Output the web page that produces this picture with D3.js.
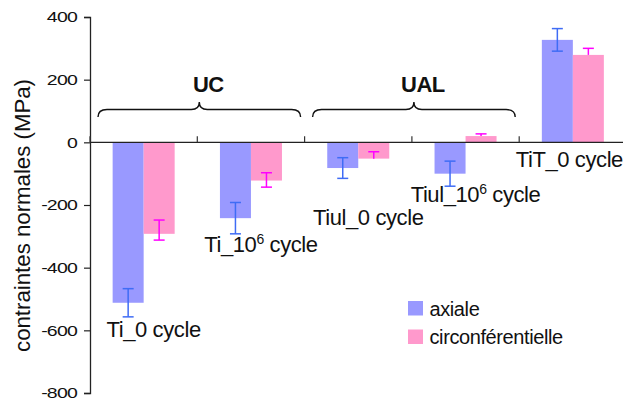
<!DOCTYPE html>
<html>
<head>
<meta charset="utf-8">
<script src="https://cdn.jsdelivr.net/npm/d3@7"></script>
<style>
  html, body { margin: 0; padding: 0; background: #fff; }
  svg { display: block; font-family: "Liberation Sans", Arial, sans-serif; }
</style>
</head>
<body>
<svg id="chart" width="623" height="403"></svg>
<script>
// ---- data ----
const categories = ["Ti_0 cycle", "Ti_10^6 cycle", "Tiul_0 cycle", "Tiul_10^6 cycle", "TiT_0 cycle"];
const seriesNames = ["axiale", "circonférentielle"];
const axiale = [-512, -242, -82, -100, 327];
const axialeErr = [45, 50, 33, 40, 36];
const circ = [-292, -122, -52, 20, 279];
const circErrPlus = [44, 25, 22, 7, 21];
const circErrMinus = [20, 21, 0, 0, 0];
const yTicks = [400, 200, 0, -200, -400, -600, -800];
const yTitle = "contraintes normales (MPa)";
const groups = [{ label: "UC", from: 0, to: 1 }, { label: "UAL", from: 2, to: 3 }];
// category label anchor values (data units, below/above bars)
const labelValues = [-620, -350, -264, -190, -79];

// ---- styles ----
const colors = ["#9999FF", "#FF99CC"];
const errColors = ["#3F6CF5", "#FF00FF"];
const labelDx = [10, 10, 10, 10, -3.5];

const svg = d3.select("#chart");
svg.append("rect").attr("width", 623).attr("height", 403).attr("fill", "#fff");

const y = d3.scaleLinear().domain([-800, 400]).range([393, 17]);
const x0 = d3.scaleBand().domain(categories).range([90, 626.5]).paddingInner(0.422).paddingOuter(0.211);
const x1 = d3.scaleBand().domain(seriesNames).range([0, x0.bandwidth()]);
const step = x0.step();
const bound = i => 90 + i * step;

const rows = categories.map((c, i) => ({
  cat: c,
  vals: [
    { s: 0, v: axiale[i], hi: axiale[i] + axialeErr[i], lo: axiale[i] - axialeErr[i] },
    { s: 1, v: circ[i], hi: circ[i] + circErrPlus[i], lo: circ[i] - circErrMinus[i] }
  ]
}));

// bars
const g = svg.append("g");
const cg = g.selectAll("g.cat").data(rows).enter().append("g")
  .attr("transform", d => `translate(${x0(d.cat)},0)`);
cg.selectAll("rect").data(d => d.vals).enter().append("rect")
  .attr("x", d => x1(seriesNames[d.s]))
  .attr("width", x1.bandwidth())
  .attr("y", d => y(Math.max(0, d.v)))
  .attr("height", d => Math.abs(y(d.v) - y(0)))
  .attr("fill", d => colors[d.s]);

// error bars
const cap = 5.5;
const eb = cg.selectAll("g.err").data(d => d.vals).enter().append("g")
  .attr("stroke", d => errColors[d.s]).attr("stroke-width", 1.5).attr("fill", "none");
eb.append("line")
  .attr("x1", d => x1(seriesNames[d.s]) + x1.bandwidth() / 2)
  .attr("x2", d => x1(seriesNames[d.s]) + x1.bandwidth() / 2)
  .attr("y1", d => y(d.hi)).attr("y2", d => y(d.lo));
eb.filter(d => d.hi !== d.v).append("line")
  .attr("x1", d => x1(seriesNames[d.s]) + x1.bandwidth() / 2 - cap)
  .attr("x2", d => x1(seriesNames[d.s]) + x1.bandwidth() / 2 + cap)
  .attr("y1", d => y(d.hi)).attr("y2", d => y(d.hi));
eb.filter(d => d.lo !== d.v).append("line")
  .attr("x1", d => x1(seriesNames[d.s]) + x1.bandwidth() / 2 - cap)
  .attr("x2", d => x1(seriesNames[d.s]) + x1.bandwidth() / 2 + cap)
  .attr("y1", d => y(d.lo)).attr("y2", d => y(d.lo));

// y axis
const yAxis = d3.axisLeft(y).tickValues(yTicks).tickSize(6).tickPadding(7).tickFormat(d => String(d));
const ya = svg.append("g").attr("transform", "translate(90,0)").call(yAxis);
ya.select(".domain").attr("stroke", "#222").attr("stroke-width", 1.3);
ya.selectAll(".tick line").attr("stroke", "#222").attr("stroke-width", 1.2);
const sx = 1.3;
ya.selectAll(".tick text")
  .attr("font-size", 15).attr("fill", "#111")
  .attr("font-family", "'Liberation Sans', Arial, sans-serif")
  .attr("letter-spacing", "-0.6")
  .attr("transform", `scale(${sx},1)`)
  .attr("x", -13 / sx);

// x axis at zero
svg.append("line").attr("x1", 90).attr("x2", 623).attr("y1", y(0)).attr("y2", y(0))
  .attr("stroke", "#222").attr("stroke-width", 1.3);
svg.append("g").selectAll("line").data(d3.range(categories.length + 1)).enter().append("line")
  .attr("x1", i => bound(i)).attr("x2", i => bound(i))
  .attr("y1", y(0)).attr("y2", y(0) - 6)
  .attr("stroke", "#333").attr("stroke-width", 1.2);

// y title
svg.append("text")
  .attr("transform", `translate(30,215.5) rotate(-90)`)
  .attr("text-anchor", "middle").attr("font-size", 22).attr("fill", "#111")
  .attr("textLength", 273).attr("lengthAdjust", "spacingAndGlyphs")
  .text(yTitle);

// category labels
const lab = svg.append("g").selectAll("text").data(categories).enter().append("text")
  .attr("x", (d, i) => x0(d) + x0.bandwidth() / 2 + labelDx[i])
  .attr("y", (d, i) => y(labelValues[i]))
  .attr("text-anchor", "middle").attr("font-size", 22).attr("fill", "#111")
  .attr("letter-spacing", "-0.4");
lab.each(function (d) {
  const t = d3.select(this);
  const m = d.match(/^(.*)\^(\d)(.*)$/);
  if (m) {
    t.append("tspan").text(m[1]);
    t.append("tspan").attr("font-size", 14).attr("dy", -8).text(m[2]);
    t.append("tspan").attr("dy", 8).text(m[3]);
  } else {
    t.text(d);
  }
});

// braces and group labels
function bracePath(xa, xb, yb) {
  const xm = (xa + xb) / 2;
  return `M${xa},${yb + 7.5} Q${xa},${yb} ${xa + 9},${yb} L${xm - 8},${yb} Q${xm},${yb} ${xm},${yb - 7.5}` +
    ` Q${xm},${yb} ${xm + 8},${yb} L${xb - 9},${yb} Q${xb},${yb} ${xb},${yb + 7.5}`;
}
const gb = svg.append("g");
groups.forEach(gr => {
  const xa = bound(gr.from) + 8, xb = bound(gr.to + 1) - 4;
  gb.append("path").attr("d", bracePath(xa, xb, 109.5))
    .attr("fill", "none").attr("stroke", "#111").attr("stroke-width", 1.4);
  gb.append("text").attr("x", (xa + xb) / 2 + 9).attr("y", 91.5)
    .attr("text-anchor", "middle").attr("font-size", 22).attr("font-weight", "bold")
    .attr("fill", "#111").attr("letter-spacing", "-0.5").text(gr.label);
});

// legend
const lg = svg.append("g").attr("transform", "translate(408,301)");
seriesNames.forEach((s, i) => {
  lg.append("rect").attr("x", 0).attr("y", i * 28.5).attr("width", 15).attr("height", 14.5).attr("fill", colors[i]);
  lg.append("text").attr("x", 21.5).attr("y", i * 28.5 + 14.5)
    .attr("font-size", 20).attr("fill", "#111").attr("letter-spacing", "-0.4").text(s);
});
</script>
</body>
</html>
